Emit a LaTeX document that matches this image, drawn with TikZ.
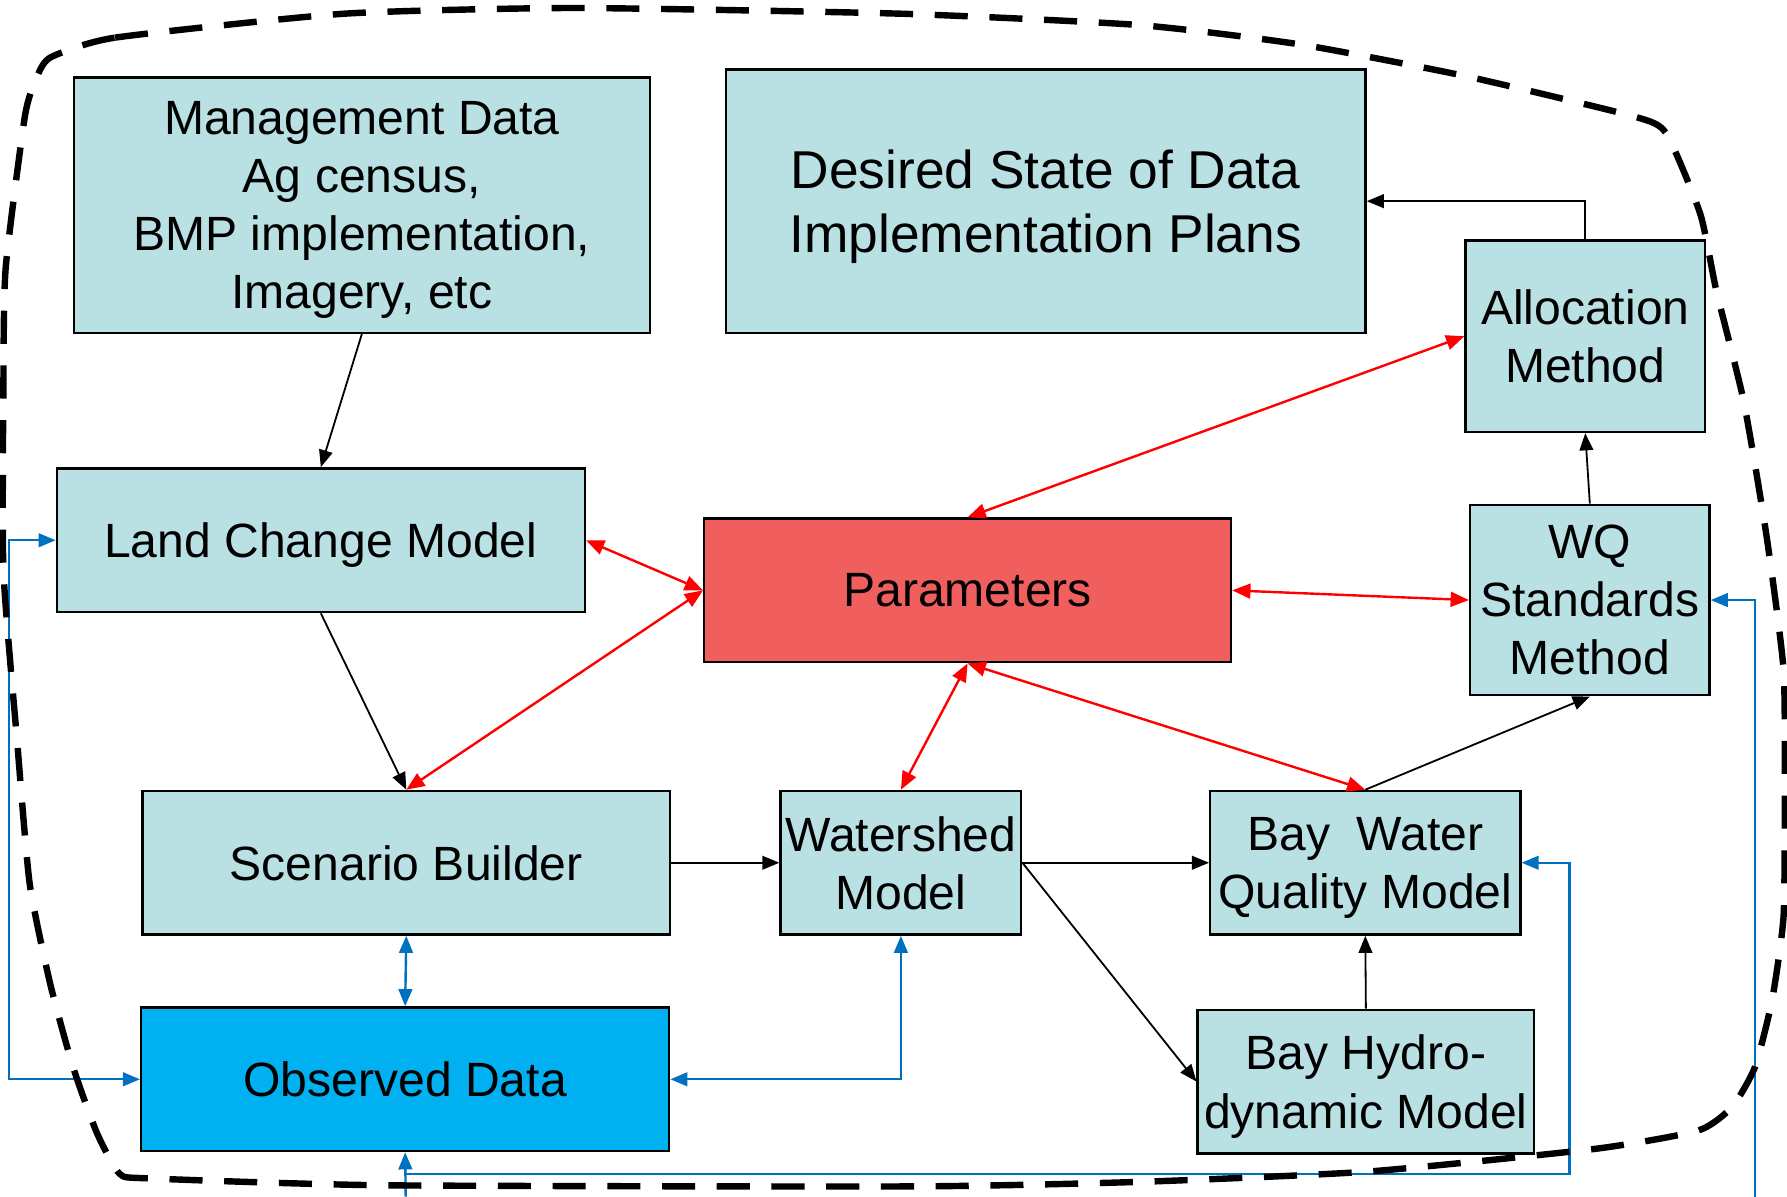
\documentclass[tikz,border=0pt]{standalone}
\usepackage{fontspec}
\setmainfont{Liberation Sans}
\usetikzlibrary{arrows.meta, positioning}
\definecolor{boxteal}{RGB}{185,224,227}
\definecolor{paramred}{RGB}{240,94,94}
\definecolor{obsblue}{RGB}{0,176,240}
\definecolor{linkblue}{RGB}{0,112,192}

\begin{document}
\begin{tikzpicture}[
  x=0.01cm, y=-0.01cm,
  every node/.style={font=\fontsize{12}{14.5}\selectfont},
  modelbox/.style={draw=black, line width=0.6pt, fill=boxteal, align=center, inner sep=0pt, text depth=0pt},
  flow/.style={-{Triangle[length=1.5mm,width=1.2mm]}, black, line width=0.45pt},
  feedback/.style={{Triangle[length=1.6mm,width=1.3mm]}-{Triangle[length=1.6mm,width=1.3mm]}, red, line width=0.6pt},
  datalink/.style={linkblue, line width=0.6pt},
  datatip/.style={-{Triangle[length=1.5mm,width=1.2mm]}},
  datatips/.style={{Triangle[length=1.5mm,width=1.2mm]}-{Triangle[length=1.5mm,width=1.2mm]}}
]
  \useasboundingbox (0,0) rectangle (1568,1050);

  % Top row
  \node[modelbox, minimum width=5.05cm, minimum height=2.24cm] (mgmt) at (317.5,180)
    {Management Data\\Ag census,\\BMP implementation,\\Imagery, etc};
  \node[modelbox, minimum width=5.61cm, minimum height=2.31cm,
        font=\fontsize{13.3}{16.2}\selectfont] (desired) at (917.5,176.5)
    {Desired State of Data\\Implementation Plans};
  \node[modelbox, minimum width=2.10cm, minimum height=1.68cm] (alloc) at (1391,295)
    {Allocation\\Method};

  % Middle row
  \node[modelbox, minimum width=4.63cm, minimum height=1.26cm] (land) at (281.5,474)
    {Land Change Model};
  \node[modelbox, fill=paramred, minimum width=4.62cm, minimum height=1.26cm] (params) at (849,518)
    {Parameters};
  \node[modelbox, minimum width=2.10cm, minimum height=1.67cm] (wq) at (1395,526.5)
    {WQ\\Standards\\Method};

  % Model row
  \node[modelbox, minimum width=4.63cm, minimum height=1.26cm] (scen) at (356.5,757)
    {Scenario Builder};
  \node[modelbox, minimum width=2.11cm, minimum height=1.26cm] (water) at (790.5,757)
    {Watershed\\Model};
  \node[modelbox, minimum width=2.72cm, minimum height=1.26cm] (baywq) at (1198,757)
    {Bay\ \ Water\\Quality Model};

  % Bottom row
  \node[modelbox, fill=obsblue, minimum width=4.63cm, minimum height=1.26cm] (obs) at (355.5,947)
    {Observed Data};
  \node[modelbox, minimum width=2.95cm, minimum height=1.26cm] (hydro) at (1198.5,949)
    {Bay Hydro-\\dynamic Model};

  % Black flows
  \draw[flow] (mgmt.south) -- (land.north);
  \draw[flow] (land.south) -- (scen.north);
  \draw[flow] (scen.east) -- (water.west);
  \draw[flow] (water.east) -- (baywq.west);
  \draw[flow] (water.east) -- (hydro.west);
  \draw[flow] (hydro.north) -- (baywq.south);
  \draw[flow] (baywq.north) -- (wq.south);
  \draw[flow] (wq.north) -- (alloc.south);
  \draw[flow] (alloc.north) |- (desired.east);

  % Red feedback
  \draw[feedback] (params.north) -- (alloc.west);
  \draw[feedback] (land.east) -- (params.west);
  \draw[feedback] (params.west) -- (scen.north);
  \draw[feedback] (params.east) -- (wq.west);
  \draw[feedback] (params.south) -- (water.north);
  \draw[feedback] (params.south) -- (baywq.north);

  % Blue data links
  \coordinate (leftrail) at (8,0);
  \coordinate (botrail) at (1377,1030);
  \coordinate (botin) at (356,1050);
  \coordinate (rightin) at (1540,1050);
  \draw[datalink, datatips] (scen.south) -- (obs.north);
  \draw[datalink, datatips] (water.south) |- (obs.east);
  \draw[datalink, datatips] (land.west) -- (land.west -| leftrail)
    -- (obs.west -| leftrail) -- (obs.west);
  \draw[datalink, datatip] (botin) -- (obs.south);
  \draw[datalink, datatip] (obs.south |- botrail) -- (botrail) |- (baywq.east);
  \draw[datalink, datatip] (rightin) |- (wq.east);

  % Dashed outline
  \draw[black, line width=1.6pt, dash pattern=on 2.9mm off 1.9mm]
    plot[smooth cycle, tension=0.35] coordinates {
      (45,50) (101,33) (302,12) (504,7) (790,12) (1000,22) (1141,39)
      (1287,67) (1433,102) (1462,117) (1492,188) (1506,255) (1530,352)
      (1550,470) (1565,588) (1566,700) (1565,804) (1555,877) (1540,936)
      (1520,971) (1490,992) (1400,1008) (1200,1028) (1000,1037) (800,1041)
      (336,1040) (132,1034) (105,1030) (85,994) (64,936) (44,863) (26,775)
      (15,650) (3,500) (3,336) (5,235) (22,101) (33,66)};
\end{tikzpicture}
\end{document}
